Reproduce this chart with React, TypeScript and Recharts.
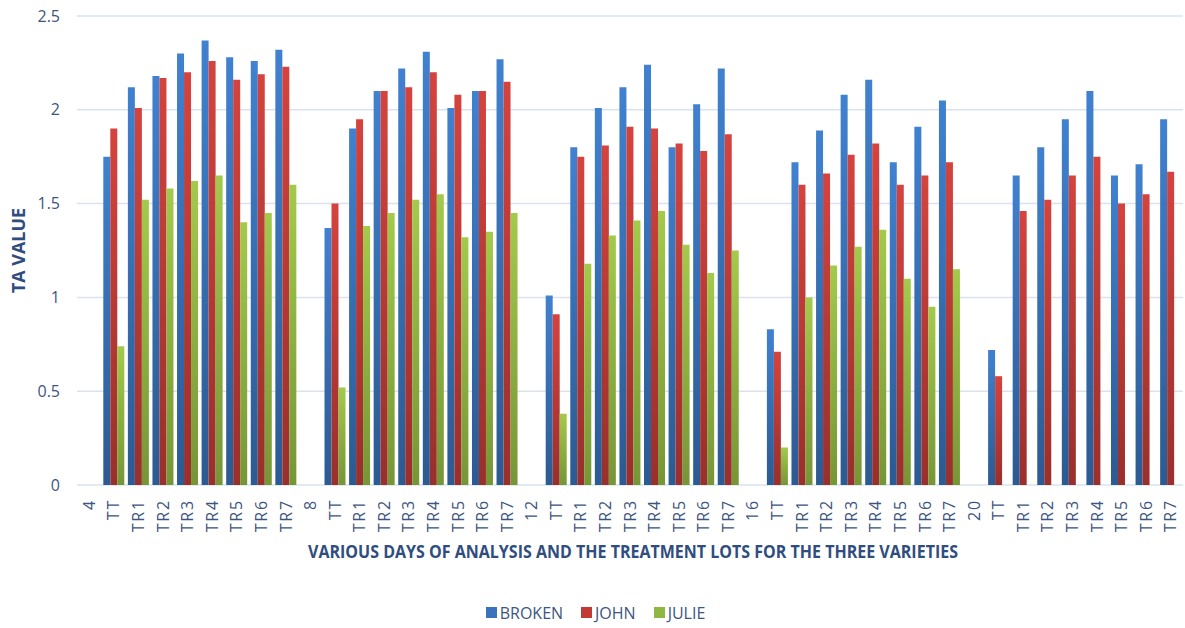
import { Bar, BarChart, CartesianGrid, Legend, XAxis, YAxis } from "recharts";

const days = ["4", "8", "12", "16", "20"];
const lots = ["TT", "TR1", "TR2", "TR3", "TR4", "TR5", "TR6", "TR7"];

// one slot for the day label, then the eight lots
const broken = [
  [1.75, 2.12, 2.18, 2.3, 2.37, 2.28, 2.26, 2.32],
  [1.37, 1.9, 2.1, 2.22, 2.31, 2.01, 2.1, 2.27],
  [1.01, 1.8, 2.01, 2.12, 2.24, 1.8, 2.03, 2.22],
  [0.83, 1.72, 1.89, 2.08, 2.16, 1.72, 1.91, 2.05],
  [0.72, 1.65, 1.8, 1.95, 2.1, 1.65, 1.71, 1.95]
];
const john = [
  [1.9, 2.01, 2.17, 2.2, 2.26, 2.16, 2.19, 2.23],
  [1.5, 1.95, 2.1, 2.12, 2.2, 2.08, 2.1, 2.15],
  [0.91, 1.75, 1.81, 1.91, 1.9, 1.82, 1.78, 1.87],
  [0.71, 1.6, 1.66, 1.76, 1.82, 1.6, 1.65, 1.72],
  [0.58, 1.46, 1.52, 1.65, 1.75, 1.5, 1.55, 1.67]
];
const julie = [
  [0.74, 1.52, 1.58, 1.62, 1.65, 1.4, 1.45, 1.6],
  [0.52, 1.38, 1.45, 1.52, 1.55, 1.32, 1.35, 1.45],
  [0.38, 1.18, 1.33, 1.41, 1.46, 1.28, 1.13, 1.25],
  [0.2, 1.0, 1.17, 1.27, 1.36, 1.1, 0.95, 1.15],
  [null, null, null, null, null, null, null, null]
];
const yTicks = [0, 0.5, 1, 1.5, 2, 2.5];

const data = days.flatMap((day, d) => [
  { label: day, broken: null, john: null, julie: null },
  ...lots.map((lot, i) => ({
    label: lot,
    broken: broken[d][i],
    john: john[d][i],
    julie: julie[d][i]
  }))
]);

const series = [
  { key: "broken", name: "BROKEN", top: "#4081d0", bottom: "#2c5a92", swatch: "#3a73bb" },
  { key: "john", name: "JOHN", top: "#d5433e", bottom: "#992f2b", swatch: "#c23a36" },
  { key: "julie", name: "JULIE", top: "#a3ca4b", bottom: "#769636", swatch: "#8fb743" }
];

const TEXT = "#3d5580";
const FONT = "'Open Sans', sans-serif";

function XTick({ x, y, payload }: any) {
  return (
    <g transform={`translate(${x},${y})`}>
      <text
        transform="rotate(-90)"
        x={-6}
        dy="0.35em"
        textAnchor="end"
        fill={TEXT}
        fontSize={16}
        letterSpacing={1.8}
        fontFamily={FONT}
      >
        {payload.value}
      </text>
    </g>
  );
}

function LegendBox() {
  return (
    <div
      style={{
        height: 43,
        display: "flex",
        justifyContent: "center",
        alignItems: "center",
        paddingTop: 12,
        paddingLeft: 8,
        boxSizing: "border-box",
        gap: 18,
        fontFamily: FONT,
        fontSize: 16,
        color: TEXT
      }}
    >
      {series.map((s) => (
        <span key={s.key} style={{ display: "flex", alignItems: "center", gap: 3 }}>
          <span style={{ width: 11, height: 11, background: s.swatch, display: "inline-block" }} />
          {s.name}
        </span>
      ))}
    </div>
  );
}

export default function App() {
  return (
    <div style={{ position: "absolute", left: 0, top: 0, background: "#fff" }}>
      <BarChart
        width={1185}
        height={628}
        data={data}
        margin={{ top: 16, right: 2, left: 0, bottom: 0 }}
        barCategoryGap="7%"
        barGap={0}
      >
        <defs>
          {series.map((s) => (
            <linearGradient key={s.key} id={`grad-${s.key}`} x1="0" y1="0" x2="0" y2="1">
              <stop offset="0%" stopColor={s.top} />
              <stop offset="100%" stopColor={s.bottom} />
            </linearGradient>
          ))}
        </defs>
        <CartesianGrid vertical={false} stroke="#d9e3f0" strokeWidth={1.5} />
        <XAxis
          dataKey="label"
          interval={0}
          height={100}
          axisLine={false}
          tickLine={false}
          tick={<XTick />}
          label={({ viewBox }: any) => (
            <text
              x={633}
              y={viewBox.y + 66}
              textAnchor="middle"
              dominantBaseline="central"
              fill="#2f4d7e"
              fontSize={17}
              fontWeight={700}
              fontFamily={FONT}
              textLength={650}
              lengthAdjust="spacingAndGlyphs"
            >
              VARIOUS DAYS OF ANALYSIS AND THE TREATMENT LOTS FOR THE THREE VARIETIES
            </text>
          )}
        />
        <YAxis
          width={77}
          domain={[0, 2.5]}
          ticks={yTicks}
          axisLine={false}
          tickLine={false}
          tickMargin={11}
          tick={{ fill: TEXT, fontSize: 16, fontFamily: FONT }}
          label={({ viewBox }: any) => (
            <text
              transform={`translate(18,${viewBox.y + viewBox.height / 2}) rotate(-90)`}
              textAnchor="middle"
              dominantBaseline="central"
              fill="#2f4d7e"
              fontSize={17}
              fontWeight={700}
              fontFamily={FONT}
              textLength={85}
              lengthAdjust="spacingAndGlyphs"
            >
              TA VALUE
            </text>
          )}
        />
        <Legend verticalAlign="bottom" height={43} content={<LegendBox />} />
        {series.map((s) => (
          <Bar
            key={s.key}
            dataKey={s.key}
            name={s.name}
            fill={`url(#grad-${s.key})`}
            isAnimationActive={false}
          />
        ))}
      </BarChart>
    </div>
  );
}
